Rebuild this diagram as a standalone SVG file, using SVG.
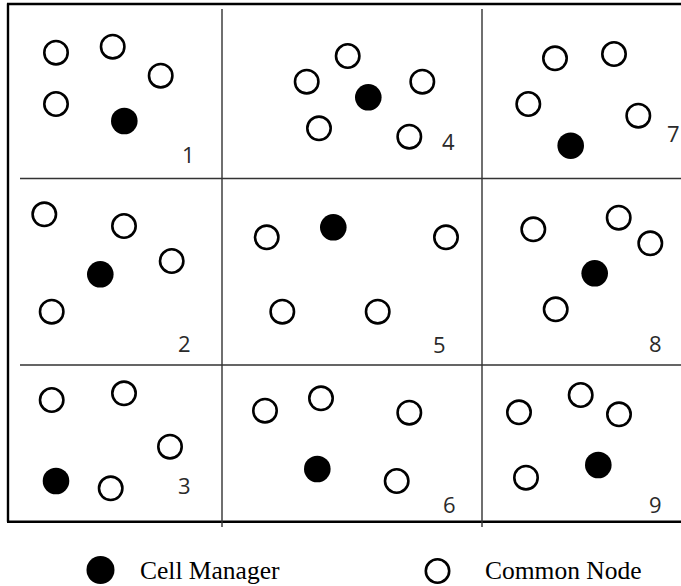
<svg xmlns="http://www.w3.org/2000/svg" width="681" height="586" viewBox="0 0 681 586">
<style>
.frame{stroke:#000;stroke-width:2.4;fill:none}
.grid{stroke:#333;stroke-width:1.4;fill:none}
.cn{fill:#fff;stroke:#000;stroke-width:2.6}
.cm{fill:#000}
.num{font-family:"Open Sans","Liberation Sans",sans-serif;font-size:22px;fill:#2a2a2a}
.leg{font-family:"Liberation Serif","Times New Roman",serif;font-size:25.5px;fill:#000}
</style>
<rect width="681" height="586" fill="#fff"/>
<g id="connectors">
<path class="frame" d="M8,3.5 V521.7 M7,4 H681 M7,521.7 H681"/>
<path class="grid" d="M222,9 V527 M482,9 V527 M20,178.5 H681 M20,365 H681"/>
</g>
<g id="cell1">
<circle class="cn" cx="56" cy="52.7" r="11.7"/>
<circle class="cn" cx="112.7" cy="46.7" r="11.7"/>
<circle class="cn" cx="160.7" cy="75.7" r="11.7"/>
<circle class="cn" cx="56" cy="104" r="11.7"/>
<circle class="cm" cx="124.3" cy="121" r="13.3"/>
<text class="num" x="182" y="162.7">1</text>
</g>
<g id="cell2">
<circle class="cn" cx="44.3" cy="214.3" r="11.7"/>
<circle class="cn" cx="124" cy="226" r="11.7"/>
<circle class="cn" cx="171.7" cy="261" r="11.7"/>
<circle class="cn" cx="51.7" cy="311.7" r="11.7"/>
<circle class="cm" cx="100.3" cy="274.3" r="13.3"/>
<text class="num" x="178" y="351.7">2</text>
</g>
<g id="cell3">
<circle class="cn" cx="51.7" cy="400" r="11.7"/>
<circle class="cn" cx="124" cy="393.3" r="11.7"/>
<circle class="cn" cx="170" cy="446.7" r="11.7"/>
<circle class="cn" cx="110.7" cy="488.3" r="11.7"/>
<circle class="cm" cx="56" cy="481" r="13.3"/>
<text class="num" x="178" y="494">3</text>
</g>
<g id="cell4">
<circle class="cn" cx="347.7" cy="56" r="11.7"/>
<circle class="cn" cx="306.7" cy="81.7" r="11.7"/>
<circle class="cn" cx="422.3" cy="81.7" r="11.7"/>
<circle class="cn" cx="319" cy="128.3" r="11.7"/>
<circle class="cn" cx="409.3" cy="136.7" r="11.7"/>
<circle class="cm" cx="368.3" cy="97.3" r="13.3"/>
<text class="num" x="442" y="150">4</text>
</g>
<g id="cell5">
<circle class="cn" cx="266.7" cy="237.3" r="11.7"/>
<circle class="cn" cx="446" cy="237.3" r="11.7"/>
<circle class="cn" cx="282.3" cy="311.7" r="11.7"/>
<circle class="cn" cx="377.7" cy="311.7" r="11.7"/>
<circle class="cm" cx="333.3" cy="227.3" r="13.3"/>
<text class="num" x="433" y="352.7">5</text>
</g>
<g id="cell6">
<circle class="cn" cx="265" cy="410.7" r="11.7"/>
<circle class="cn" cx="321" cy="398.3" r="11.7"/>
<circle class="cn" cx="409.3" cy="412.7" r="11.7"/>
<circle class="cn" cx="396.7" cy="481" r="11.7"/>
<circle class="cm" cx="317.3" cy="469" r="13.3"/>
<text class="num" x="443" y="513.3">6</text>
</g>
<g id="cell7">
<circle class="cn" cx="555" cy="58.3" r="11.7"/>
<circle class="cn" cx="614" cy="54" r="11.7"/>
<circle class="cn" cx="528.3" cy="104" r="11.7"/>
<circle class="cn" cx="638.3" cy="115.7" r="11.7"/>
<circle class="cm" cx="570.7" cy="145.7" r="13.3"/>
<text class="num" x="667" y="141.7">7</text>
</g>
<g id="cell8">
<circle class="cn" cx="533.3" cy="229.3" r="11.7"/>
<circle class="cn" cx="618.7" cy="217.7" r="11.7"/>
<circle class="cn" cx="650.3" cy="243.3" r="11.7"/>
<circle class="cn" cx="555.7" cy="309.3" r="11.7"/>
<circle class="cm" cx="594.7" cy="273.3" r="13.3"/>
<text class="num" x="649" y="351.7">8</text>
</g>
<g id="cell9">
<circle class="cn" cx="519" cy="412.3" r="11.7"/>
<circle class="cn" cx="580.7" cy="395" r="11.7"/>
<circle class="cn" cx="619" cy="414.3" r="11.7"/>
<circle class="cn" cx="526" cy="477.7" r="11.7"/>
<circle class="cm" cx="598.3" cy="465" r="13.3"/>
<text class="num" x="649" y="513.3">9</text>
</g>
<g id="legend-manager">
<circle class="cm" cx="100.5" cy="570" r="14"/>
<text class="leg" x="140" y="578.5">Cell Manager</text>
</g>
<g id="legend-common">
<circle class="cn" cx="437.5" cy="571" r="11.7"/>
<text class="leg" x="485" y="578.5">Common Node</text>
</g>
</svg>
